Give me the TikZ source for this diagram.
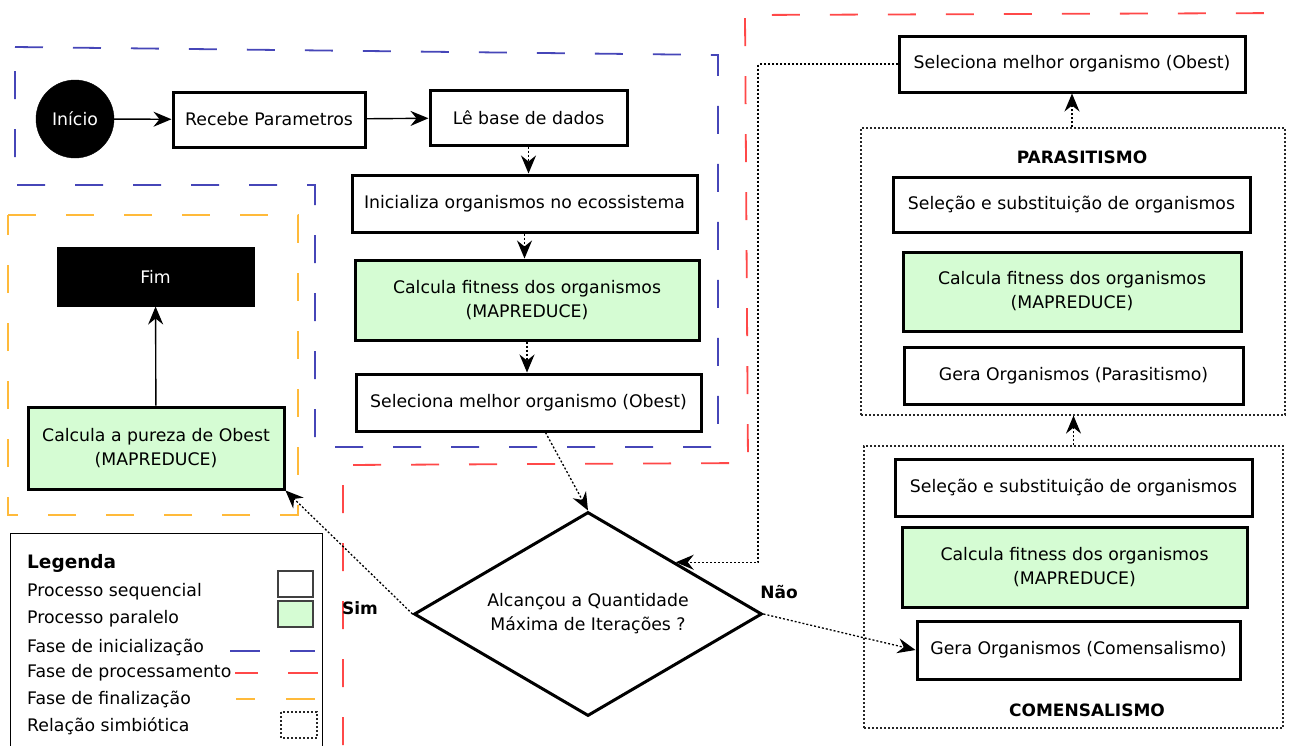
\documentclass[tikz,border=0pt]{standalone}
\usepackage{fontspec}
\setmainfont{DejaVu Sans}
\usetikzlibrary{shapes.geometric,arrows.meta,calc}
\definecolor{fgreen}{HTML}{D5FCD3}
\definecolor{bdash}{HTML}{4646B8}
\definecolor{rdash}{HTML}{FF4848}
\definecolor{odash}{HTML}{FFBA3A}
\begin{document}
\begin{tikzpicture}[x=1pt,y=-1pt,
  font=\fontsize{17.3}{24}\selectfont,
  proc/.style={draw=black,line width=3pt,fill=white,inner sep=0pt,align=center},
  parproc/.style={proc,fill=fgreen},
  seqarrow/.style={line width=1.4pt,-{Stealth[length=18pt,width=15pt,inset=6pt]}},
  dotarrow/.style={line width=1.3pt,dash pattern=on 2pt off 2pt,-{Stealth[length=18pt,width=15pt,inset=6pt]}},
  symbbox/.style={draw=black!85,line width=1.2pt,dash pattern=on 2pt off 2pt,inner sep=0pt},
  phase/.style={line width=1.8pt,dash pattern=on 28pt off 30pt},
  lbl/.style={font=\fontsize{17}{20}\bfseries\selectfont,inner sep=0pt},
  legtxt/.style={anchor=west,inner sep=0pt}]
\useasboundingbox (0,0) rectangle (1293,745);

% phase frames
\draw[phase,bdash] (15,47) -- (718,55) -- (718,447) -- (315,447) -- (315,185) -- (15,185) -- cycle;
\draw[phase,rdash] (343,745) -- (343,465) -- (748,463) -- (745,15) -- (1293,13);
\draw[phase,odash] (8,215) -- (298,215) -- (298,515) -- (8,515) -- cycle;

% initialisation
\node[draw,fill=black,circle,minimum size=78pt,inner sep=0pt,text=white] (ini) at (75,119) {Início};
\node[proc,minimum width=192pt,minimum height=55pt] (rec) at (269,119.5) {Recebe Parametros};
\node[proc,minimum width=197pt,minimum height=55pt] (le) at (528.5,117.5) {Lê base de dados};
\node[proc,minimum width=345pt,minimum height=57pt] (inic) at (524.5,203.5) {Inicializa organismos no ecossistema};
\node[parproc,minimum width=344pt,minimum height=80pt] (fit1) at (527,300) {Calcula fitness dos organismos\\(MAPREDUCE)};
\node[proc,minimum width=345pt,minimum height=57pt] (sel1) at (528.5,402.5) {Seleciona melhor organismo (Obest)};

\draw[seqarrow] (ini) -- (rec);
\draw[seqarrow] (rec) -- (le);
\draw[dotarrow] (le.south) -- (le.south |- inic.north);
\draw[dotarrow] (inic.south) -- (inic.south |- fit1.north);
\draw[dotarrow] (fit1.south) -- (fit1.south |- sel1.north);

% decision
\node[draw,line width=3pt,shape=diamond,aspect=1.7,minimum width=348pt,minimum height=204pt,inner sep=0pt,align=center] (dia) at (588,614) {Alcançou a Quantidade\\Máxima de Iterações ?};
\draw[dotarrow] ([xshift=17pt]sel1.south) -- (dia.north);

% finalisation
\node[proc,fill=black,text=white,line width=1pt,minimum width=197pt,minimum height=59pt] (fim) at (155.5,276.5) {Fim};
\node[parproc,minimum width=256pt,minimum height=82pt] (pur) at (156,448) {Calcula a pureza de Obest\\(MAPREDUCE)};
\draw[seqarrow] (pur) -- (fim);
\draw[dotarrow] (dia.west) -- (pur.south east);
\node[lbl] (sim) at (360,608) {Sim};
\node[lbl] (nao) at (779,592) {Não};

% right side
\node[proc,minimum width=346pt,minimum height=56pt] (sel2) at (1072,64) {Seleciona melhor organismo (Obest)};
\node[symbbox,minimum width=424pt,minimum height=287pt] (para) at (1073,271.5) {};
\node[lbl] (paral) at (1082,157) {PARASITISMO};
\node[proc,minimum width=357pt,minimum height=55pt] (ss1) at (1071.5,204.5) {Seleção e substituição de organismos};
\node[parproc,minimum width=338pt,minimum height=79pt] (fit2) at (1072,291.5) {Calcula fitness dos organismos\\(MAPREDUCE)};
\node[proc,minimum width=339pt,minimum height=57pt] (gpar) at (1073.5,375.5) {Gera Organismos (Parasitismo)};

\node[symbbox,minimum width=419pt,minimum height=282pt] (come) at (1073.5,587) {};
\node[proc,minimum width=357pt,minimum height=57pt] (ss2) at (1073.5,487.5) {Seleção e substituição de organismos};
\node[parproc,minimum width=345pt,minimum height=80pt] (fit3) at (1074.5,567) {Calcula fitness dos organismos\\(MAPREDUCE)};
\node[proc,minimum width=323pt,minimum height=58pt] (gcom) at (1078.5,650) {Gera Organismos (Comensalismo)};
\node[lbl] (comel) at (1087,710) {COMENSALISMO};

\draw[dotarrow] (para.north -| sel2.south) -- (sel2.south);
\draw[dotarrow] (come.north) -- (come.north |- para.south);
\draw[dotarrow] (dia.east) -- (gcom.west);
\coordinate (turn) at (758,0);
\draw[dotarrow] (sel2.west) -| (dia.north east -| turn) -- (dia.north east);

% legend
\node[draw,line width=1pt,minimum width=312pt,minimum height=230pt,inner sep=0pt] (leg) at (166,648) {};
\node[legtxt,font=\fontsize{18.5}{20}\bfseries\selectfont] (legt) at (27,563) {Legenda};
\node[legtxt] (l1) at (27,592) {Processo sequencial};
\node[legtxt] (l2) at (27,619) {Processo paralelo};
\node[legtxt] (l3) at (27,647) {Fase de inicialização};
\node[legtxt] (l4) at (27,673) {Fase de processamento};
\node[legtxt] (l5) at (27,699) {Fase de finalização};
\node[legtxt] (l6) at (27,726) {Relação simbiótica};
\draw[line width=1.5pt,black!75] (278,571) rectangle (313,597);
\draw[line width=1.5pt,black!75,fill=fgreen] (278,601) rectangle (313,627);
\draw[line width=1.8pt,bdash] (230,651) -- (260,651) (290,651) -- (315,651);
\draw[line width=1.8pt,rdash] (235,673) -- (258,673) (288,673) -- (318,673);
\draw[line width=1.8pt,odash] (236,699) -- (255,699) (286,699) -- (315,699);
\draw[symbbox] (281,712) rectangle (317,738);
\end{tikzpicture}
\end{document}
